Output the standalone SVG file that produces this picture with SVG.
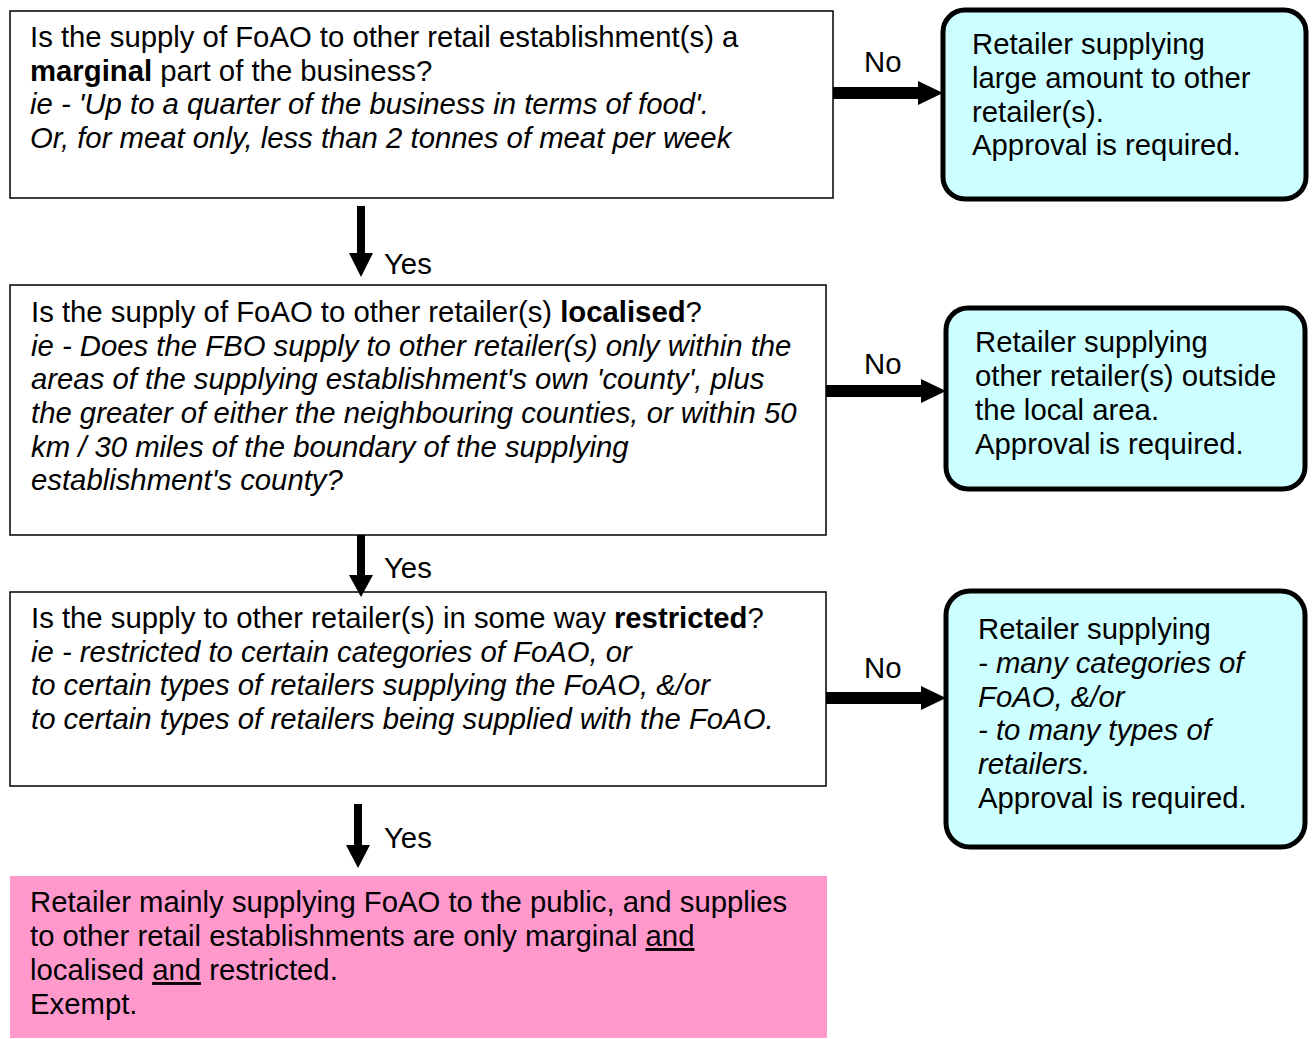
<svg xmlns="http://www.w3.org/2000/svg" width="1312" height="1039" viewBox="0 0 1312 1039">
<style>
text{font-family:"Liberation Sans",Arial,sans-serif;font-size:29.3px;fill:#000}
.q{fill:#fff;stroke:#000;stroke-width:1.5}
.r{fill:#ccffff;stroke:#000;stroke-width:5}
.i{font-style:italic}
.b{font-weight:bold}
.u{text-decoration:underline}
</style>
<rect width="1312" height="1039" fill="#fff"/>
<g id="q1">
<rect class="q" x="10" y="11" width="823" height="187"/>
<text x="30" y="47">Is the supply of FoAO to other retail establishment(s) a</text>
<text x="30" y="81"><tspan class="b">marginal</tspan> part of the business?</text>
<text x="30" y="114" class="i">ie - 'Up to a quarter of the business in terms of food'.</text>
<text x="30" y="148" class="i">Or, for meat only, less than 2 tonnes of meat per week</text>
</g>
<g id="q2">
<rect class="q" x="10" y="285" width="816" height="250"/>
<text x="31" y="322">Is the supply of FoAO to other retailer(s) <tspan class="b">localised</tspan>?</text>
<text x="31" y="356" class="i">ie - Does the FBO supply to other retailer(s) only within the</text>
<text x="31" y="389" class="i">areas of the supplying establishment's own 'county', plus</text>
<text x="31" y="423" class="i">the greater of either the neighbouring counties, or within 50</text>
<text x="31" y="457" class="i">km / 30 miles of the boundary of the supplying</text>
<text x="31" y="490" class="i">establishment's county?</text>
</g>
<g id="q3">
<rect class="q" x="10" y="592" width="816" height="194"/>
<text x="31" y="628">Is the supply to other retailer(s) in some way <tspan class="b">restricted</tspan>?</text>
<text x="31" y="662" class="i">ie - restricted to certain categories of FoAO, or</text>
<text x="31" y="695" class="i">to certain types of retailers supplying the FoAO, &amp;/or</text>
<text x="31" y="729" class="i">to certain types of retailers being supplied with the FoAO.</text>
</g>
<g id="exempt">
<rect x="10" y="876" width="817" height="162" fill="#ff99cc"/>
<text x="30" y="912">Retailer mainly supplying FoAO to the public, and supplies</text>
<text x="30" y="946">to other retail establishments are only marginal <tspan class="u">and</tspan></text>
<text x="30" y="980">localised <tspan class="u">and</tspan> restricted.</text>
<text x="30" y="1014">Exempt.</text>
</g>
<g id="r1">
<rect class="r" x="943" y="10" width="363" height="189" rx="22"/>
<text x="972" y="54">Retailer supplying</text>
<text x="972" y="88">large amount to other</text>
<text x="972" y="122">retailer(s).</text>
<text x="972" y="155">Approval is required.</text>
</g>
<g id="r2">
<rect class="r" x="946" y="308" width="359" height="181" rx="22"/>
<text x="975" y="352">Retailer supplying</text>
<text x="975" y="386">other retailer(s) outside</text>
<text x="975" y="420">the local area.</text>
<text x="975" y="454">Approval is required.</text>
</g>
<g id="r3">
<rect class="r" x="946" y="591" width="359" height="256" rx="24"/>
<text x="978" y="639">Retailer supplying</text>
<text x="978" y="673" class="i">- many categories of</text>
<text x="978" y="707" class="i">FoAO, &amp;/or</text>
<text x="978" y="740" class="i">- to many types of</text>
<text x="978" y="774" class="i">retailers.</text>
<text x="978" y="808">Approval is required.</text>
</g>
<g id="connectors" fill="#000">
<path d="M833,87 H918 V81 L943,93 L918,105 V99 H833 Z"/>
<path d="M826,385 H921 V379 L946,391 L921,403 V397 H826 Z"/>
<path d="M826,692 H921 V686 L946,698 L921,710 V704 H826 Z"/>
<path d="M357,206 V253 H349 L361,277 L373,253 H365 V206 Z"/>
<path d="M357,535 V575 H349 L361,597 L373,575 H365 V535 Z"/>
<path d="M354,804 V845 H346 L358,868 L370,845 H362 V804 Z"/>
<text x="864" y="72">No</text>
<text x="864" y="374">No</text>
<text x="864" y="678">No</text>
<text x="384" y="274">Yes</text>
<text x="384" y="578">Yes</text>
<text x="384" y="848">Yes</text>
</g>
</svg>
